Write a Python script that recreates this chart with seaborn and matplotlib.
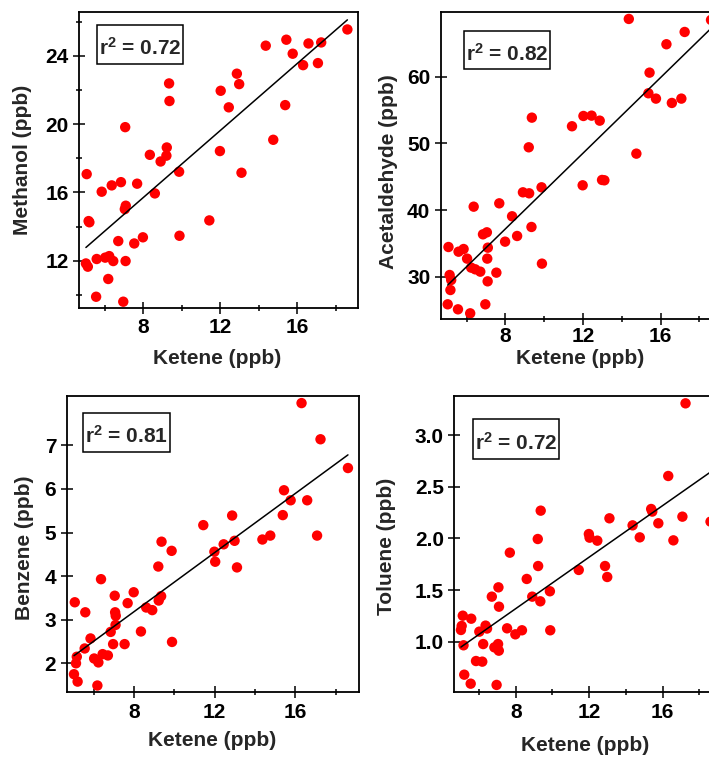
import matplotlib
matplotlib.use("Agg")
import matplotlib.pyplot as plt
from matplotlib.ticker import MultipleLocator, FixedLocator
from matplotlib.patches import Rectangle
import pandas as pd
import seaborn as sns

# Ketene mixing ratios (ppb), shared by all four panels
ketene = [5.02, 5.06, 5.12, 5.16, 5.20, 5.55, 5.58, 5.84, 6.02, 6.18,
          6.23, 6.36, 6.44, 6.70, 6.84, 6.96, 7.04, 7.06, 7.09, 7.08,
          7.53, 7.68, 7.98, 8.34, 8.60, 8.90, 9.20, 9.22, 9.34, 9.36,
          9.86, 9.88, 11.43, 11.98, 12.02, 12.44, 12.86, 12.98, 13.10, 14.36,
          14.75, 15.37, 15.43, 15.76, 16.30, 16.58, 17.07, 17.24, 18.60]

methanol = [11.84, 17.07, 11.65, 14.32, 14.25, 9.89, 12.10, 16.04, 12.18, 10.93,
            12.27, 16.41, 11.98, 13.15, 16.60, 9.60, 15.02, 19.82, 15.22, 11.98,
            13.01, 16.51, 13.37, 18.20, 15.94, 17.81, 18.15, 18.63, 22.38, 21.35,
            17.21, 13.46, 14.36, 18.42, 21.95, 20.98, 22.95, 22.34, 17.15, 24.59,
            19.08, 21.11, 24.94, 24.12, 23.45, 24.72, 23.57, 24.78, 25.54]

acetaldehyde = [25.91, 34.49, 30.30, 28.05, 29.55, 25.16, 33.79, 34.19, 32.75, 24.56,
                31.40, 40.53, 31.15, 30.80, 36.39, 25.91, 36.69, 32.75, 34.39, 29.35,
                30.65, 41.03, 35.29, 39.09, 36.14, 42.68, 49.42, 42.53, 37.49, 53.86,
                43.43, 32.00, 52.57, 43.73, 54.11, 54.16, 53.41, 44.53, 44.48, 68.64,
                48.47, 57.51, 60.60, 56.71, 64.85, 56.06, 56.71, 66.69, 68.49]

benzene = [1.75, 3.40, 2.00, 2.15, 1.58, 2.34, 3.17, 2.57, 2.11, 1.49,
           2.02, 3.93, 2.21, 2.18, 2.72, 2.44, 3.55, 3.17, 3.09, 2.88,
           2.44, 3.38, 3.63, 2.73, 3.28, 3.22, 4.22, 3.44, 3.54, 4.79,
           4.58, 2.49, 5.17, 4.56, 4.33, 4.73, 5.39, 4.81, 4.20, 4.84,
           4.93, 5.40, 5.97, 5.74, 7.97, 5.74, 4.93, 7.14, 6.48]

toluene = [1.116, 1.155, 1.254, 0.968, 0.684, 0.597, 1.225, 0.816, 1.10, 0.81,
           0.98, 1.158, 1.13, 1.438, 0.948, 0.585, 0.98, 1.528, 1.341, 0.916,
           1.132, 1.863, 1.074, 1.113, 1.609, 1.438, 1.995, 1.734, 1.393, 2.269,
           1.490, 1.113, 1.696, 2.043, 2.008, 1.979, 1.734, 1.628, 2.195, 2.127,
           2.011, 2.285, 2.26, 2.147, 2.604, 1.982, 2.211, 3.306, 2.163]

species = ["Methanol", "Acetaldehyde", "Benzene", "Toluene"]
r2_text = ["0.72", "0.82", "0.81", "0.72"]

df = pd.DataFrame({"Ketene": ketene, "Methanol": methanol,
                   "Acetaldehyde": acetaldehyde, "Benzene": benzene,
                   "Toluene": toluene})

sns.set_style("ticks")
plt.rcParams["font.family"] = ["Liberation Sans", "DejaVu Sans"]
plt.rcParams["font.weight"] = "bold"
plt.rcParams["axes.labelweight"] = "bold"
plt.rcParams["mathtext.fontset"] = "custom"
plt.rcParams["mathtext.rm"] = "Liberation Sans:bold"
plt.rcParams["mathtext.it"] = "Liberation Sans:bold"
plt.rcParams["mathtext.bf"] = "Liberation Sans:bold"

fig = plt.figure(figsize=(7.09, 7.57), dpi=100)

panels = [
    # axes rect, ylim, y major ticks, y minor step, ylabel xy, xlabel xy, r2 box, x tick pad
    dict(rect=[0.1114, 0.5931, 0.3935, 0.3910], ylim=(9.23, 26.56),
         yticks=[12, 16, 20, 24], yminor=2, ylab=(-0.204, 0.50), xlab=(0.496, -0.169),
         box=(0.065, 0.824, 0.373, 0.956), xpad=3.5),
    dict(rect=[0.6216, 0.5786, 0.3963, 0.4052], ylim=(23.71, 69.64),
         yticks=[30, 40, 50, 60], yminor=None, ylab=(-0.186, 0.48), xlab=(0.496, -0.128),
         box=(0.084, 0.814, 0.389, 0.940), xpad=1.5),
    dict(rect=[0.0941, 0.0855, 0.4123, 0.3918], ylim=(1.335, 8.14),
         yticks=[2, 3, 4, 5, 6, 7], yminor=None, ylab=(-0.143, 0.488), xlab=(0.496, -0.161),
         box=(0.057, 0.811, 0.354, 0.943), xpad=3.5),
    dict(rect=[0.6408, 0.0855, 0.3756, 0.3914], ylim=(0.514, 3.377),
         yticks=[1.0, 1.5, 2.0, 2.5, 3.0], yminor=None, ylab=(-0.254, 0.494), xlab=(0.491, -0.178),
         box=(0.071, 0.789, 0.394, 0.921), xpad=3.5),
]

for name, r2, p in zip(species, r2_text, panels):
    ax = fig.add_axes(p["rect"])
    sns.regplot(data=df, x="Ketene", y=name, ax=ax, ci=None,
                scatter_kws=dict(s=56, color="#ff0000", edgecolor="none", alpha=1),
                line_kws=dict(color="black", lw=1.1))
    ax.set_xlim(4.66, 19.15)
    ax.set_ylim(*p["ylim"])
    ax.xaxis.set_major_locator(MultipleLocator(4))
    ax.xaxis.set_minor_locator(MultipleLocator(2))
    ax.yaxis.set_major_locator(FixedLocator(p["yticks"]))
    if p["yminor"]:
        ax.yaxis.set_minor_locator(MultipleLocator(p["yminor"]))
    if name == "Toluene":
        ax.set_yticklabels([f"{v:.1f}" for v in p["yticks"]])

    ax.tick_params(which="major", direction="inout", length=8, width=1.1,
                   labelsize=15, color="black", labelcolor="black")
    ax.tick_params(which="minor", direction="inout", length=5, width=1.1, color="black")
    ax.tick_params(axis="x", which="major", pad=p["xpad"])
    for sp in ax.spines.values():
        sp.set_visible(True)
        sp.set_color("black")
        sp.set_linewidth(1.3)

    ax.set_xlabel("Ketene (ppb)", fontsize=15, fontweight="bold")
    ax.set_ylabel(f"{name} (ppb)", fontsize=15, fontweight="bold")
    ax.xaxis.label.set_verticalalignment("center")
    ax.yaxis.label.set_verticalalignment("center")
    ax.xaxis.set_label_coords(*p["xlab"])
    ax.yaxis.set_label_coords(*p["ylab"])

    x0, y0, x1, y1 = p["box"]
    ax.add_patch(Rectangle((x0, y0), x1 - x0, y1 - y0, transform=ax.transAxes,
                           facecolor="white", edgecolor="black", lw=1.1, zorder=5))
    ax.text((x0 + x1) / 2, (y0 + y1) / 2 - 0.012, f"r$^{{2}}$ = {r2}", transform=ax.transAxes,
            ha="center", va="center", fontsize=15, fontweight="bold", zorder=6)

fig.savefig("out.png", dpi=100)
